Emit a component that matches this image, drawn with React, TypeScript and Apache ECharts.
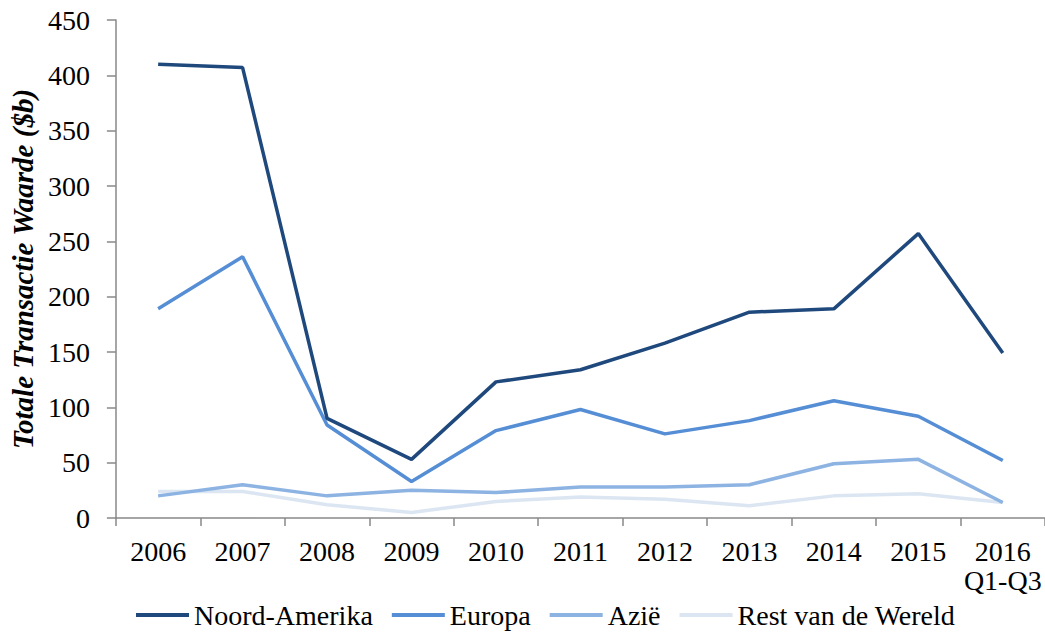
import React, { useEffect, useRef } from "react";
import * as echarts from "echarts";

const categories = ["2006", "2007", "2008", "2009", "2010", "2011", "2012", "2013", "2014", "2015", "2016\nQ1-Q3"];
const noordAmerika = [410, 407, 90, 53, 123, 134, 158, 186, 189, 257, 149];
const europa = [189, 236, 84, 33, 79, 98, 76, 88, 106, 92, 52];
const azie = [20, 30, 20, 25, 23, 28, 28, 30, 49, 53, 14];
const rest = [24, 24, 12, 5, 15, 19, 17, 11, 20, 22, 14];
const seriesNames = ["Noord-Amerika", "Europa", "Azië", "Rest van de Wereld"];
const colors = ["#1f497d", "#558ed5", "#8db3e2", "#dce6f2"];

const FONT = "'Liberation Serif', 'DejaVu Serif', serif";

export default function App() {
  const ref = useRef<HTMLDivElement>(null);
  useEffect(() => {
    const chart = echarts.init(ref.current!, undefined, { renderer: "svg" });
    const data = [noordAmerika, europa, azie, rest];
    chart.setOption({
      animation: false,
      textStyle: { fontFamily: FONT },
      grid: { left: 113, top: 20, width: 935, bottom: 114 },
      legend: {
        left: 131,
        top: 596,
        itemWidth: 53,
        itemHeight: 4,
        itemGap: 19,
        icon: "rect",
        textStyle: { fontFamily: FONT, fontSize: 28, color: "#000" },
        data: seriesNames,
      },
      xAxis: {
        type: "category",
        data: categories,
        boundaryGap: true,
        axisLine: { lineStyle: { color: "#888", width: 1.5 } },
        axisTick: { show: true, length: 8, lineStyle: { color: "#888", width: 1.5 } },
        axisLabel: { fontFamily: FONT, fontSize: 28, color: "#000", margin: 19, lineHeight: 29, interval: 0 },
      },
      yAxis: {
        type: "value",
        min: 0,
        max: 450,
        interval: 50,
        name: "Totale Transactie Waarde ($b)",
        nameLocation: "middle",
        nameGap: 77,
        nameTextStyle: { fontFamily: FONT, fontSize: 29, fontWeight: "bold", fontStyle: "italic", color: "#000" },
        splitLine: { show: false },
        axisLine: { show: true, lineStyle: { color: "#888", width: 1.5 } },
        axisTick: { show: true, length: 9, lineStyle: { color: "#888", width: 1.5 } },
        axisLabel: { fontFamily: FONT, fontSize: 28, color: "#000", margin: 26 },
      },
      series: seriesNames.map((n, i) => ({
        name: n,
        type: "line",
        data: data[i],
        symbol: "none",
        z: 10 - i,
        lineStyle: { color: colors[i], width: 3.5 },
        itemStyle: { color: colors[i] },
      })),
    });
    return () => chart.dispose();
  }, []);
  return <div ref={ref} style={{ position: "fixed", left: 0, top: 0, width: 1045, height: 632, background: "#fff" }} />;
}
